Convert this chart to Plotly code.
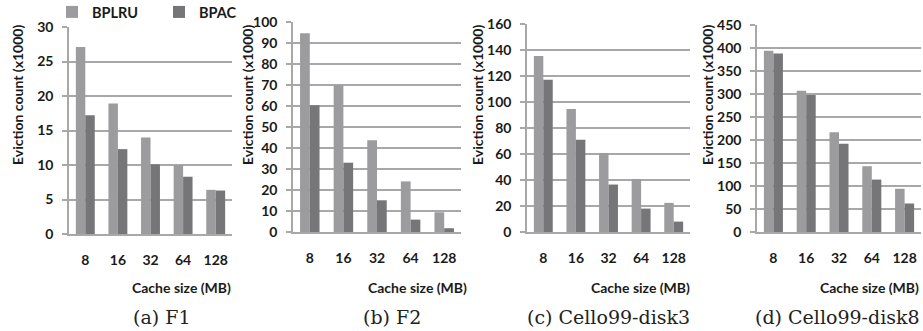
import plotly.graph_objects as go

# Cache sizes (MB) on the x axis
cache_sizes = ["8", "16", "32", "64", "128"]

# Eviction counts (x1000) per trace
f1_bplru = [27.1, 18.9, 14.0, 10.0, 6.4]
f1_bpac = [17.2, 12.3, 10.1, 8.3, 6.3]

f2_bplru = [94.6, 69.9, 43.7, 24.1, 9.4]
f2_bpac = [60.4, 33.0, 15.1, 5.9, 1.8]

c3_bplru = [135.4, 94.7, 60.8, 40.8, 22.4]
c3_bpac = [117.2, 71.0, 36.5, 18.0, 8.0]

c8_bplru = [394, 307, 217, 143, 94]
c8_bpac = [388, 298, 192, 114, 62]

panels = [
    ("(a) F1", f1_bplru, f1_bpac, [0, 30], 5),
    ("(b) F2", f2_bplru, f2_bpac, [0, 100], 10),
    ("(c) Cello99-disk3", c3_bplru, c3_bpac, [0, 160], 20),
    ("(d) Cello99-disk8", c8_bplru, c8_bpac, [0, 450], 50),
]

W, H = 923, 331
# plot-area pixel boxes: (left, right, top, bottom)
boxes = [(69, 232, 27, 234), (293, 461, 22, 232), (527, 690, 24, 232), (757, 921, 25, 232)]
ytitle_x = [18, 248, 478, 708]
xtitle_right = [233, 469, 692, 921]
caption_cx = [161, 392, 608, 837]

C_LRU = "#9c9c9e"
C_PAC = "#767679"
GRID = "#a8a8a8"
TXT = "#1a1a1a"
SANS = "Lato"

fig = go.Figure()
annotations = []
layout_axes = {}

for i, ((cap, lru, pac, yr, dt), (l, r, t, b)) in enumerate(zip(panels, boxes)):
    n = "" if i == 0 else str(i + 1)
    fig.add_trace(go.Bar(x=cache_sizes, y=lru, name="BPLRU", marker_color=C_LRU,
                         marker_line_width=0, xaxis="x" + n, yaxis="y" + n,
                         showlegend=(i == 0), legendgroup="lru"))
    fig.add_trace(go.Bar(x=cache_sizes, y=pac, name="BPAC", marker_color=C_PAC,
                         marker_line_width=0, xaxis="x" + n, yaxis="y" + n,
                         showlegend=(i == 0), legendgroup="pac"))
    layout_axes["xaxis" + n] = dict(
        domain=[l / W, r / W], anchor="y" + n, type="category",
        showline=True, linecolor=GRID, linewidth=1.5,
        ticks="outside", ticklen=0, tickcolor="rgba(0,0,0,0)",
        ticklabelstandoff=12,
        tickfont=dict(family=SANS, size=14, color=TXT, weight="bold"),
        showgrid=False, zeroline=False, fixedrange=True, automargin=False,
    )
    layout_axes["yaxis" + n] = dict(
        domain=[1 - b / H, 1 - t / H], anchor="x" + n, range=yr, dtick=dt,
        showline=True, linecolor=GRID, linewidth=1.5,
        ticks="outside", ticklen=5, tickcolor=GRID, tickwidth=1.5,
        ticklabelstandoff=6,
        tickfont=dict(family=SANS, size=14, color=TXT, weight="bold"),
        showgrid=True, gridcolor=GRID, gridwidth=1.5, zeroline=False,
        fixedrange=True, automargin=False,
    )
    annotations.append(dict(
        text="Eviction count (x1000)", textangle=-90, xref="paper", yref="paper",
        x=ytitle_x[i] / W, y=1 - 95 / H, xanchor="center", yanchor="middle",
        showarrow=False,
        font=dict(family=SANS, size=14, color=TXT, weight="bold"),
    ))
    annotations.append(dict(
        text="Cache size (MB)", xref="paper", yref="paper", xanchor="right",
        yanchor="middle", x=xtitle_right[i] / W, y=1 - 287 / H, showarrow=False,
        font=dict(family=SANS, size=14, color=TXT, weight="bold"),
    ))
    annotations.append(dict(
        text=cap, xref="paper", yref="paper", xanchor="center", yanchor="middle",
        x=caption_cx[i] / W, y=1 - 317 / H, showarrow=False,
        font=dict(family="DejaVu Serif", size=19, color="#222222"),
    ))

fig.update_layout(
    width=W, height=H, margin=dict(l=0, r=0, t=0, b=0, autoexpand=False),
    paper_bgcolor="white", plot_bgcolor="white",
    barmode="group", bargap=0.42, bargroupgap=0,
    annotations=annotations,
    legend=dict(orientation="h", x=52 / W, y=1 + 4 / H, xanchor="left", yanchor="top",
                entrywidth=62, entrywidthmode="pixels", itemwidth=30,
                font=dict(family=SANS, size=14.5, color=TXT, weight="bold"),
                bgcolor="rgba(0,0,0,0)", tracegroupgap=0),
    **layout_axes,
)

fig.write_html("out.html")
